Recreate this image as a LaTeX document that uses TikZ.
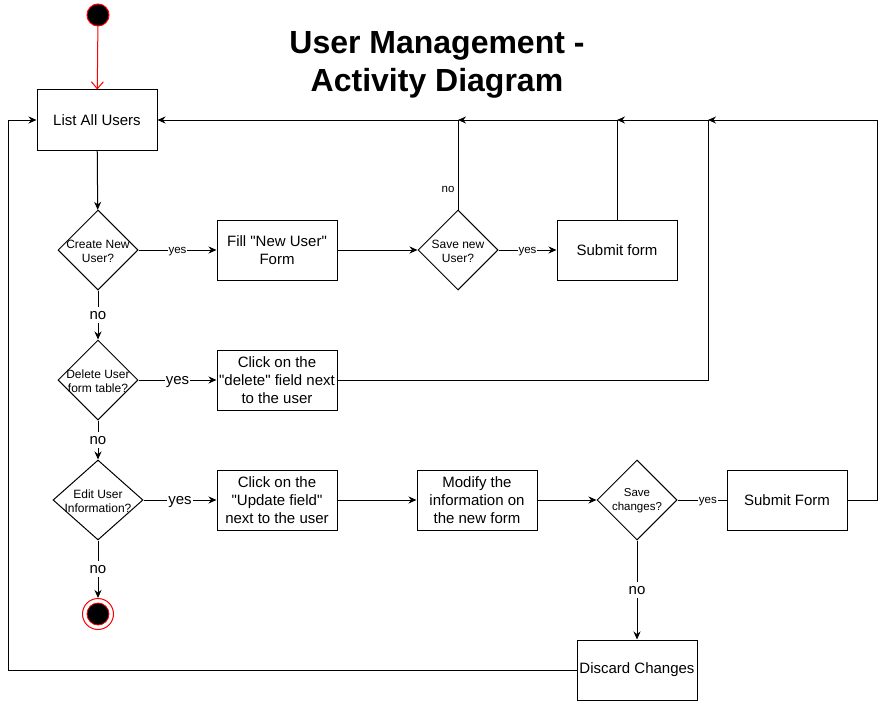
\documentclass[tikz,border=0pt]{standalone}
\usepackage{fontspec}
\setmainfont{Liberation Sans}
\usetikzlibrary{shapes.geometric,arrows.meta}

\begin{document}
\begin{tikzpicture}[x=1pt, y=-1pt,
      >={Stealth[length=8pt,width=7pt]},
      act/.style={draw, line width=1pt, minimum width=120, minimum height=60, align=center, inner sep=1pt, font=\fontsize{15}{18}\selectfont},
      dec/.style={draw, diamond, line width=1pt, minimum width=80, minimum height=80, inner sep=0pt},
      dtext/.style={align=center, inner sep=0pt, font=\fontsize{12}{14}\selectfont},
      edge/.style={->, line width=1pt},
      lbl/.style={fill=white, inner sep=1pt, text height=11pt, text depth=3pt, font=\fontsize{15}{17}\selectfont},
      slbl/.style={fill=white, inner sep=1pt, text height=8.5pt, text depth=2.5pt, font=\fontsize{11.5}{13}\selectfont}]

    \useasboundingbox (0,0) rectangle (887,701);

    \node[align=center, font=\fontsize{32}{38}\selectfont\bfseries] (title) at (437,65) {User Management -\\Activity Diagram};

    \node[circle, draw=red, fill=black, line width=1pt, minimum size=22, inner sep=0pt] (start) at (98,15) {};
    \node[act] (list) at (97,120) {List All Users};

    \node[dec] (create) at (98,250) {};
    \node[dtext] (createtxt) at (98,251) {Create New\\User?};
    \node[act] (fill) at (277,250) {Fill \textquotedbl New User\textquotedbl\\Form};
    \node[dec] (savenew) at (458,250) {};
    \node[dtext] (savenewtxt) at (458,251) {Save new\\User?};
    \node[act] (submita) at (617,250) {Submit form};

    \node[dec] (delete) at (98,380) {};
    \node[dtext] (deletetxt) at (98,381) {Delete User\\form table?};
    \node[act] (clickdel) at (277,380) {Click on the\\\textquotedbl delete\textquotedbl{} field next\\to the user};

    \node[dec, minimum width=90] (edit) at (98,500) {};
    \node[dtext] (edittxt) at (98,501) {Edit User\\Information?};
    \node[act] (clickupd) at (277,500) {Click on the\\\textquotedbl Update field\textquotedbl\\next to the user};
    \node[act] (modify) at (477,500) {Modify the\\information on\\the new form};
    \node[dec] (savech) at (637,500) {};
    \node[dtext, font=\fontsize{11.5}{14}\selectfont] (savechtxt) at (637,501) {Save\\changes?};
    \node[act] (submitb) at (787,500) {Submit Form};
    \node[act] (discard) at (637,670) {Discard Changes};

    \node[circle, draw=red, line width=1pt, minimum size=31, inner sep=0pt] (stop) at (98,614) {};
    \node[circle, draw=red, fill=black, line width=0.8pt, minimum size=22, inner sep=0pt] (stopdot) at (stop) {};

    \coordinate (ja) at (458,120);
    \coordinate (jb) at (617,120);
    \coordinate (jc) at (708,120);
    \coordinate (rc) at (877,120);
    \coordinate (lc) at (8,120);

    \draw[red, line width=1pt, -{Straight Barb[length=7pt,width=12pt]}] (start) -- (list);
    \draw[edge] (list) -- (create);
    \draw[edge] (create) -- node[slbl] {yes} (fill);
    \draw[edge] (create) -- node[lbl] {no} (delete);
    \draw[edge] (fill) -- (savenew);
    \draw[edge] (savenew.east) -- node[slbl] {yes} (submita.west);
    \draw[edge] (savenew) -- node[slbl, pos=0.22, left, fill=none, inner sep=3pt] {no} (ja) -- (list);
    \draw[edge] (submita) -- (jb) -- (ja);
    \draw[edge] (delete) -- node[lbl] {yes} (clickdel);
    \draw[edge] (delete) -- node[lbl] {no} (edit);
    \draw[edge] (clickdel) -| (jc) -- (jb);
    \draw[edge] (edit) -- node[lbl] {yes} (clickupd);
    \draw[edge] (edit) -- node[lbl] {no} (stop);
    \draw[edge] (clickupd) -- (modify);
    \draw[edge] (modify) -- (savech);
    \draw[line width=1pt] (savech) -- node[slbl, pos=0.62] {yes} (submitb);
    \draw[edge] (savech) -- node[lbl] {no} (discard);
    \draw[edge] (submitb) -| (rc) -- (jc);
    \draw[edge] (discard) -| (lc) -- (list);
  \end{tikzpicture}
\end{document}
